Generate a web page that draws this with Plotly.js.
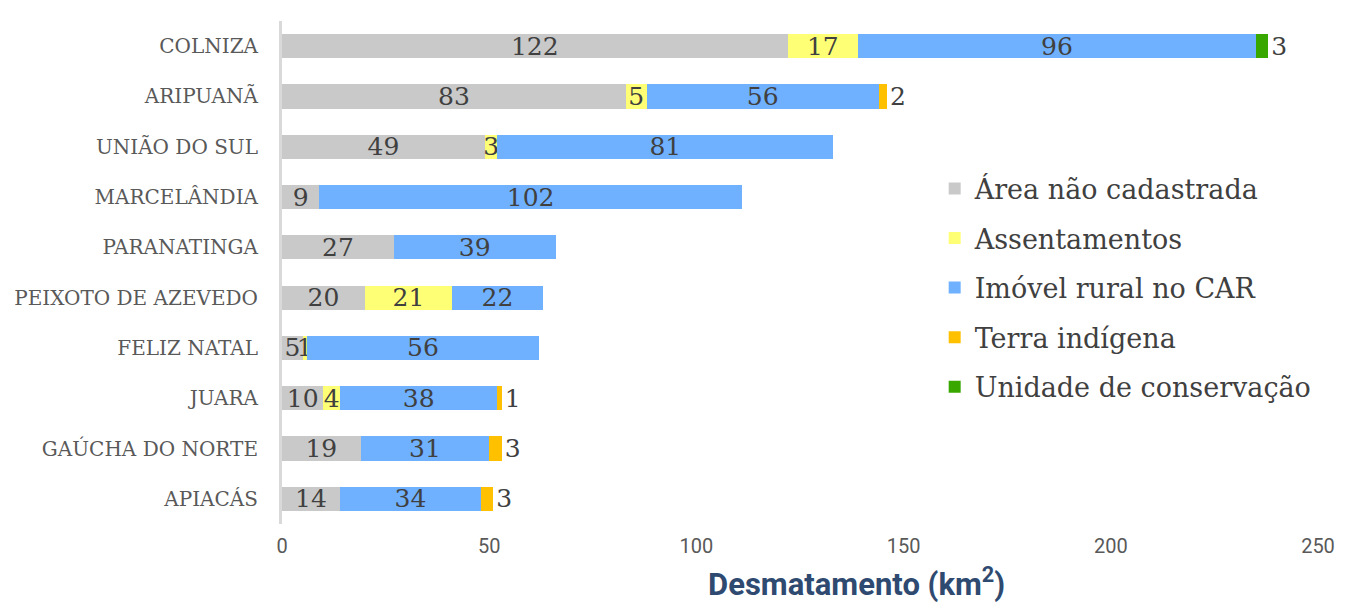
<!DOCTYPE html>
<html><head><meta charset="utf-8">
<script src="https://cdn.plot.ly/plotly-3.0.1.min.js"></script>
<style>body{margin:0;background:#fff}#chart{width:1345px;height:603px}</style>
</head><body><div id="chart"></div>
<script>
const municipios = ["COLNIZA","ARIPUANÃ","UNIÃO DO SUL","MARCELÂNDIA","PARANATINGA","PEIXOTO DE AZEVEDO","FELIZ NATAL","JUARA","GAÚCHA DO NORTE","APIACÁS"];
const areaNaoCadastrada = [122, 83, 49, 9, 27, 20, 5, 10, 19, 14];
const assentamentos     = [17, 5, 3, null, null, 21, 1, 4, null, null];
const imovelRuralCAR    = [96, 56, 81, 102, 39, 22, 56, 38, 31, 34];
const terraIndigena     = [null, 2, null, null, null, null, null, 1, 3, 3];
const unidadeConservacao= [3, null, null, null, null, null, null, null, null, null];
const seriesNames = ["Área não cadastrada","Assentamentos","Imóvel rural no CAR","Terra indígena","Unidade de conservação"];
const seriesColors = ["#C9C9C9","#FFFF75","#6FB1FF","#FFC000","#38A800"];
const xTicks = [0, 50, 100, 150, 200, 250];

const serif = "DejaVu Serif";
const labelFont = {family: serif, size: 25, color: "#404040"};
const allSeries = [areaNaoCadastrada, assentamentos, imovelRuralCAR, terraIndigena, unidadeConservacao];
const outsideIdx = [3, 4];
const traces = allSeries.map((vals, i) => ({
  type: "bar", orientation: "h",
  y: municipios, x: vals,
  name: seriesNames[i],
  legendgroup: "g" + i,
  marker: {color: seriesColors[i], line: {width: 0}},
  text: vals.map(v => v == null ? "" : String(v)),
  textposition: outsideIdx.includes(i) ? "outside" : "inside",
  insidetextanchor: "middle",
  textangle: 0,
  constraintext: "none",
  cliponaxis: false,
  textfont: labelFont,
  insidetextfont: labelFont,
  outsidetextfont: labelFont,
  hoverinfo: "x+y+name"
}));

const layout = {
  width: 1345, height: 603,
  margin: {l: 282, r: 27, t: 21, b: 79},
  paper_bgcolor: "#fff", plot_bgcolor: "#fff",
  barmode: "stack",
  bargap: 0.52,
  showlegend: true,
  legend: {
    x: 0.630, y: 0.715, xanchor: "left", yanchor: "top",
    traceorder: "grouped", tracegroupgap: 11.5,
    font: {family: serif, size: 27, color: "#404040"},
    bgcolor: "rgba(0,0,0,0)"
  },
  xaxis: {
    range: [0, 250], tickvals: xTicks, ticktext: xTicks.map(String),
    showgrid: false, zeroline: false, showline: false, ticks: "",
    ticklabelstandoff: 8,
    tickfont: {family: "Roboto", size: 20, color: "#595959"},
    fixedrange: true
  },
  yaxis: {
    type: "category", autorange: "reversed",
    showgrid: false, zeroline: false,
    showline: true, linecolor: "#D9D9D9", linewidth: 3,
    ticks: "", ticklabelstandoff: 17,
    tickfont: {family: serif, size: 20, color: "#595959"},
    fixedrange: true
  },
  annotations: [{
    xref: "paper", yref: "paper", x: 0.555, y: -0.116,
    xanchor: "center", yanchor: "middle", showarrow: false,
    text: "<b>Desmatamento (km<sup>2</sup>)</b>",
    font: {family: "Roboto", size: 31, color: "#2F4A70"}
  }]
};
Plotly.newPlot("chart", traces, layout, {displayModeBar: false, staticPlot: true});
</script></body></html>
